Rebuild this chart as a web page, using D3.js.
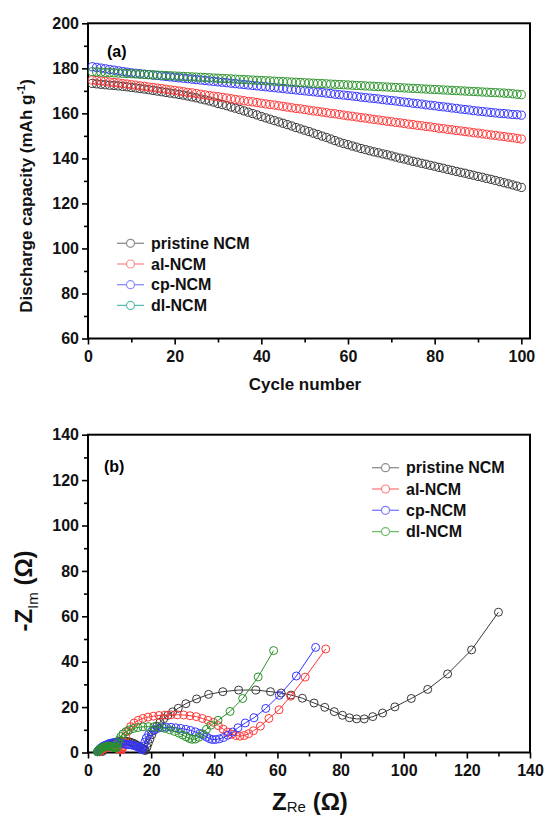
<!DOCTYPE html>
<html>
<head>
<meta charset="utf-8">
<script src="https://cdn.jsdelivr.net/npm/d3@7"></script>
<style>
  body { margin: 0; background: #fff; }
  text { font-family: "Liberation Sans", Arial, sans-serif; }
</style>
</head>
<body>
<svg id="chart" width="547" height="815"></svg>
<script>
// ---- panel (a): discharge capacity vs cycle ----
var cycleNumbers = d3.range(1, 101);

var pristineCap = [173.3,173.1,172.9,172.7,172.5,172.4,172.2,172.0,171.8,171.5,
  171.3,171.0,170.8,170.5,170.2,169.9,169.6,169.3,169.0,168.7,
  168.4,168.1,167.7,167.3,166.9,166.4,166.0,165.5,165.0,164.4,
  163.9,163.4,162.8,162.3,161.7,161.1,160.5,159.9,159.3,158.6,
  158.0,157.4,156.8,156.2,155.6,155.0,154.4,153.7,153.1,152.5,
  151.9,151.2,150.6,149.9,149.3,148.6,147.9,147.2,146.6,146.1,
  145.5,145.0,144.4,143.9,143.4,142.9,142.5,142.0,141.6,141.1,
  140.6,140.1,139.7,139.2,138.7,138.3,137.8,137.4,136.9,136.5,
  136.0,135.6,135.1,134.7,134.2,133.8,133.4,132.9,132.5,132.0,
  131.6,131.1,130.7,130.2,129.7,129.2,128.7,128.2,127.7,127.1];

var alCap = [174.8,174.6,174.4,174.2,173.9,173.7,173.5,173.2,173.0,172.7,
  172.5,172.2,172.0,171.7,171.5,171.2,171.0,170.7,170.4,170.2,
  169.9,169.6,169.3,169.1,168.8,168.5,168.2,167.9,167.6,167.4,
  167.1,166.8,166.5,166.2,165.9,165.6,165.3,165.1,164.8,164.5,
  164.2,163.9,163.7,163.4,163.1,162.8,162.5,162.2,162.0,161.7,
  161.4,161.1,160.9,160.6,160.3,160.0,159.8,159.5,159.2,158.9,
  158.7,158.4,158.1,157.9,157.6,157.3,157.1,156.8,156.5,156.3,
  156.0,155.8,155.5,155.2,155.0,154.7,154.5,154.2,154.0,153.7,
  153.4,153.2,152.9,152.7,152.4,152.2,151.9,151.7,151.4,151.2,
  150.9,150.7,150.4,150.2,149.9,149.7,149.4,149.2,148.9,148.6];

var cpCap = [180.7,180.4,180.1,179.8,179.5,179.2,178.9,178.6,178.3,178.0,
  177.8,177.6,177.4,177.2,177.0,176.8,176.6,176.4,176.2,176.0,
  175.8,175.6,175.4,175.2,175.0,174.8,174.6,174.4,174.2,174.0,
  173.8,173.6,173.4,173.2,173.0,172.8,172.6,172.4,172.2,172.0,
  171.8,171.6,171.4,171.2,171.0,170.8,170.6,170.4,170.2,170.0,
  169.8,169.6,169.4,169.2,169.0,168.8,168.5,168.3,168.1,167.9,
  167.7,167.5,167.2,167.0,166.8,166.6,166.4,166.1,165.9,165.7,
  165.5,165.2,165.0,164.8,164.5,164.3,164.1,163.8,163.6,163.4,
  163.1,162.9,162.7,162.4,162.2,161.9,161.7,161.5,161.2,161.0,
  160.8,160.6,160.4,160.2,160.0,159.9,159.7,159.5,159.4,159.2];

var dlCap = [178.5,178.4,178.3,178.2,178.1,178.0,177.9,177.8,177.7,177.6,
  177.5,177.4,177.3,177.2,177.1,177.0,176.9,176.8,176.7,176.6,
  176.5,176.4,176.3,176.2,176.1,176.0,175.9,175.8,175.7,175.6,
  175.5,175.4,175.3,175.2,175.1,175.0,174.9,174.8,174.7,174.6,
  174.5,174.4,174.3,174.2,174.1,174.0,173.9,173.8,173.7,173.6,
  173.5,173.4,173.3,173.2,173.1,173.0,172.9,172.8,172.7,172.6,
  172.5,172.4,172.3,172.2,172.1,172.0,171.9,171.8,171.7,171.6,
  171.5,171.4,171.3,171.2,171.1,171.0,170.9,170.8,170.7,170.6,
  170.5,170.4,170.3,170.2,170.1,170.0,169.9,169.8,169.7,169.6,
  169.5,169.4,169.3,169.2,169.1,169.0,168.9,168.7,168.5,168.3];

var capTicks = [60, 80, 100, 120, 140, 160, 180, 200];
var capMinor = [70, 90, 110, 130, 150, 170, 190];
var cycleTicks = [0, 20, 40, 60, 80, 100];
var cycleMinor = [10, 30, 50, 70, 90];

// ---- panel (b): nyquist plot ----
var pristineRe = [4.5,4.8,5.1,5.5,5.9,6.4,6.9,7.4,7.9,8.5,9.1,9.7,10.3,10.9,11.5,12.1,12.7,13.3,13.9,14.5,
  15.0,15.5,16.0,16.5,16.9,17.3,17.6,17.9,18.2,
  18.7,19.1,19.6,20.2,20.9,21.8,22.8,24.0,25.3,26.8,28.6,31.0,34.4,38.2,42.7,47.7,53.2,57.8,61.2,64.3,
  67.9,71.6,75.0,78.0,80.6,82.8,85.1,87.5,90.2,93.3,97.2,102.4,107.6,113.9,121.5,130.0];
var pristineIm = [0.4,0.9,1.4,1.9,2.4,2.9,3.3,3.7,4.0,4.3,4.6,4.8,4.9,5.0,5.0,4.9,4.8,4.6,4.3,4.0,
  3.6,3.2,2.8,2.4,2.0,1.6,1.3,1.0,0.9,
  2.4,4.1,5.9,7.8,9.7,11.6,13.3,14.9,16.4,17.9,19.5,21.5,23.6,25.6,26.8,27.5,27.5,26.8,26.2,25.3,
  23.9,21.8,19.9,18.0,16.4,15.3,14.8,14.8,15.8,17.4,20.1,23.8,27.8,34.6,45.2,61.8];

var alRe = [3.6,3.8,4.1,4.4,4.8,5.2,5.6,6.0,6.5,7.0,7.5,8.0,8.5,9.0,9.4,9.8,10.2,10.5,10.8,
  11.0,11.4,11.9,12.6,13.5,14.6,15.9,17.4,19.0,20.7,22.5,24.4,26.3,28.3,30.3,32.3,34.3,36.2,38.0,39.7,
  41.3,42.8,44.2,45.5,46.8,48.1,49.5,50.9,52.4,54.6,57.3,60.5,64.2,68.8,75.3];
var alIm = [0.3,0.6,1.0,1.3,1.6,1.9,2.1,2.3,2.4,2.5,2.5,2.4,2.2,2.0,1.8,1.5,1.3,1.2,1.4,
  2.4,4.6,7.0,9.4,11.4,13.0,14.2,15.0,15.6,16.0,16.3,16.5,16.6,16.6,16.5,16.2,15.8,15.0,14.2,13.3,
  11.8,10.3,9.0,8.1,7.5,7.2,7.5,8.3,9.6,11.6,15.0,18.8,24.8,33.2,45.6];

var cpRe = [3.0,3.2,3.4,3.7,4.0,4.4,4.8,5.2,5.7,6.2,6.7,7.2,7.8,8.4,9.0,9.6,10.2,10.8,11.4,12.0,
  12.6,13.2,13.8,14.4,15.0,15.5,16.0,16.5,16.9,17.2,
  17.6,18.0,18.5,19.2,20.1,21.1,22.2,23.5,24.8,26.3,27.8,29.4,31.0,32.5,34.0,35.4,36.6,37.6,38.5,39.4,
  40.4,41.6,42.9,44.3,45.8,47.5,49.8,52.6,56.3,60.6,66.0,72.1];
var cpIm = [0.3,0.7,1.1,1.5,1.9,2.3,2.7,3.0,3.3,3.6,3.9,4.1,4.3,4.4,4.4,4.3,4.2,4.0,3.8,3.6,
  3.5,3.4,3.3,3.1,2.9,2.6,2.3,1.9,1.5,1.2,
  2.8,4.6,6.4,8.0,9.2,10.1,10.7,11.0,11.1,11.1,10.9,10.6,10.2,9.7,9.1,8.4,7.6,6.8,6.1,5.7,
  5.7,6.0,6.6,7.6,9.0,10.9,13.0,15.3,19.4,25.2,33.7,46.3];

var dlRe = [3.0,3.2,3.4,3.7,4.0,4.3,4.7,5.1,5.5,5.9,6.3,6.7,7.1,7.5,7.9,8.3,8.6,8.9,9.2,
  9.5,9.9,10.4,11.1,12.0,13.1,14.4,15.8,17.4,19.1,20.8,22.6,24.3,25.9,27.4,28.8,30.0,31.1,32.1,33.0,
  34.0,35.1,36.3,37.5,38.9,41.2,45.0,49.0,53.9,58.8];
var dlIm = [0.3,0.6,0.9,1.3,1.6,1.9,2.2,2.4,2.6,2.7,2.8,2.8,2.7,2.6,2.4,2.2,2.0,2.0,2.4,
  4.0,5.6,7.0,8.2,9.2,10.0,10.6,11.0,11.3,11.4,11.3,11.0,10.6,10.0,9.3,8.5,7.7,6.9,6.2,5.8,
  5.9,6.7,8.3,10.2,12.0,14.2,18.1,23.8,33.3,44.9];

var zTicks = [0, 20, 40, 60, 80, 100, 120, 140];
var zMinor = [10, 30, 50, 70, 90, 110, 130];

var seriesNames = ["pristine NCM", "al-NCM", "cp-NCM", "dl-NCM"];
var markColors = ["#383838", "#ff3838", "#3535ff", "#2a922a"];
var legendLinesA = ["#8c8c8c", "#ff8c8c", "#8c8cff", "#5cbcb0"];
var legendLinesB = ["#8c8c8c", "#ff7c7c", "#7c7cff", "#6cbc6c"];

var svg = d3.select("#chart");
svg.append("rect").attr("width", 547).attr("height", 815).attr("fill", "#fff");

// draws frame, major and minor ticks for one panel
function drawAxes(x, y, xMajor, xMinor, yMajor, yMinor) {
  var x0 = x.range()[0], x1 = x.range()[1];
  var y0 = y.range()[0], y1 = y.range()[1];

  svg.append("g")
    .attr("transform", "translate(0," + y0 + ")")
    .call(d3.axisBottom(x).tickValues(xMajor).tickSize(6).tickPadding(6).tickFormat(d3.format("d")));
  svg.append("g")
    .attr("transform", "translate(0," + y0 + ")")
    .call(d3.axisBottom(x).tickValues(xMinor).tickSize(4).tickFormat(""));

  svg.append("g")
    .attr("transform", "translate(" + x0 + ",0)")
    .call(d3.axisLeft(y).tickValues(yMajor).tickSize(6).tickPadding(3).tickFormat(d3.format("d")));
  svg.append("g")
    .attr("transform", "translate(" + x0 + ",0)")
    .call(d3.axisLeft(y).tickValues(yMinor).tickSize(4).tickFormat(""));

  svg.selectAll(".domain").remove();
  svg.selectAll(".tick line").attr("stroke", "#000").attr("stroke-width", 1.6);
  svg.selectAll(".tick text")
    .attr("fill", "#111")
    .style("font-size", "16px")
    .style("font-weight", "bold");

  svg.append("rect")
    .attr("x", x0).attr("y", y1)
    .attr("width", x1 - x0).attr("height", y0 - y1)
    .attr("fill", "none")
    .attr("stroke", "#000")
    .attr("stroke-width", 2);
}

// legend: short line, open circle, name
function drawLegend(lx, ly, step, lineColors) {
  seriesNames.forEach(function(name, i) {
    var cy = ly + i * step;
    svg.append("line")
      .attr("x1", lx).attr("x2", lx + 27)
      .attr("y1", cy).attr("y2", cy)
      .attr("stroke", lineColors[i]).attr("stroke-width", 1.3);
    svg.append("circle")
      .attr("cx", lx + 13.5).attr("cy", cy).attr("r", 4)
      .attr("fill", "#fff")
      .attr("stroke", lineColors[i]).attr("stroke-width", 1.2);
    svg.append("text")
      .attr("x", lx + 34).attr("y", cy + 5.5)
      .style("font-size", "16px").style("font-weight", "bold")
      .attr("fill", "#111")
      .text(name);
  });
}

// ---------- panel (a) ----------
var xA = d3.scaleLinear().domain([0, 102]).range([88, 530]);
var yA = d3.scaleLinear().domain([60, 200]).range([338.5, 23.3]);

drawAxes(xA, yA, cycleTicks, cycleMinor, capTicks, capMinor);

var capSeries = [pristineCap, alCap, cpCap, dlCap];
capSeries.forEach(function(values, i) {
  svg.append("g")
    .selectAll("circle")
    .data(values)
    .enter()
    .append("circle")
    .attr("cx", function(d, j) { return xA(cycleNumbers[j]); })
    .attr("cy", function(d) { return yA(d); })
    .attr("r", 4.1)
    .attr("fill", "none")
    .attr("stroke", markColors[i])
    .attr("stroke-width", 1);
});

svg.append("text")
  .attr("x", 107).attr("y", 57)
  .style("font-size", "16px").style("font-weight", "bold")
  .text("(a)");

drawLegend(117, 243.3, 20.7, legendLinesA);

svg.append("text")
  .attr("x", 305).attr("y", 390)
  .attr("text-anchor", "middle")
  .style("font-size", "17px").style("font-weight", "bold")
  .attr("fill", "#111")
  .text("Cycle number");

var yLabA = svg.append("text")
  .attr("transform", "translate(32,196) rotate(-90)")
  .attr("text-anchor", "middle")
  .style("font-size", "17px").style("font-weight", "bold")
  .attr("fill", "#111");
yLabA.append("tspan").text("Discharge capacity (mAh g");
yLabA.append("tspan").attr("dy", -7).style("font-size", "11px").text("-1");
yLabA.append("tspan").attr("dy", 7).text(")");

// ---------- panel (b) ----------
var xB = d3.scaleLinear().domain([0, 140]).range([88, 530]);
var yB = d3.scaleLinear().domain([0, 140]).range([752.5, 434.7]);

drawAxes(xB, yB, zTicks, zMinor, zTicks, zMinor);

var nyquist = [[pristineRe, pristineIm], [alRe, alIm], [cpRe, cpIm], [dlRe, dlIm]];
var line = d3.line()
  .x(function(d) { return xB(d[0]); })
  .y(function(d) { return yB(d[1]); });

nyquist.forEach(function(s, i) {
  var pts = s[0].map(function(re, j) { return [re, s[1][j]]; });
  svg.append("path")
    .datum(pts)
    .attr("d", line)
    .attr("fill", "none")
    .attr("stroke", markColors[i])
    .attr("stroke-width", 1);
  svg.append("g")
    .selectAll("circle")
    .data(pts)
    .enter()
    .append("circle")
    .attr("cx", function(d) { return xB(d[0]); })
    .attr("cy", function(d) { return yB(d[1]); })
    .attr("r", 4)
    .attr("fill", "none")
    .attr("stroke", markColors[i])
    .attr("stroke-width", 1);
});

svg.append("text")
  .attr("x", 104).attr("y", 472)
  .style("font-size", "16px").style("font-weight", "bold")
  .text("(b)");

drawLegend(372, 467.7, 21.3, legendLinesB);

// x title: Z_Re (Ω)
var xLabB = svg.append("text")
  .attr("x", 310).attr("y", 810)
  .attr("text-anchor", "middle")
  .style("font-size", "24px").style("font-weight", "bold")
  .attr("fill", "#111");
xLabB.append("tspan").text("Z");
xLabB.append("tspan").attr("dy", 2).style("font-size", "15px").style("font-weight", "normal").text("Re");
xLabB.append("tspan").attr("dy", -2).text(" (\u03A9)");

// y title: -Z_Im (Ω)
var yLabB = svg.append("text")
  .attr("transform", "translate(32,591) rotate(-90)")
  .attr("text-anchor", "middle")
  .style("font-size", "24px").style("font-weight", "bold")
  .attr("fill", "#111");
yLabB.append("tspan").text("-Z");
yLabB.append("tspan").attr("dy", 6).style("font-size", "15px").style("font-weight", "normal").text("Im");
yLabB.append("tspan").attr("dy", -6).text(" (\u03A9)");
</script>
</body>
</html>
